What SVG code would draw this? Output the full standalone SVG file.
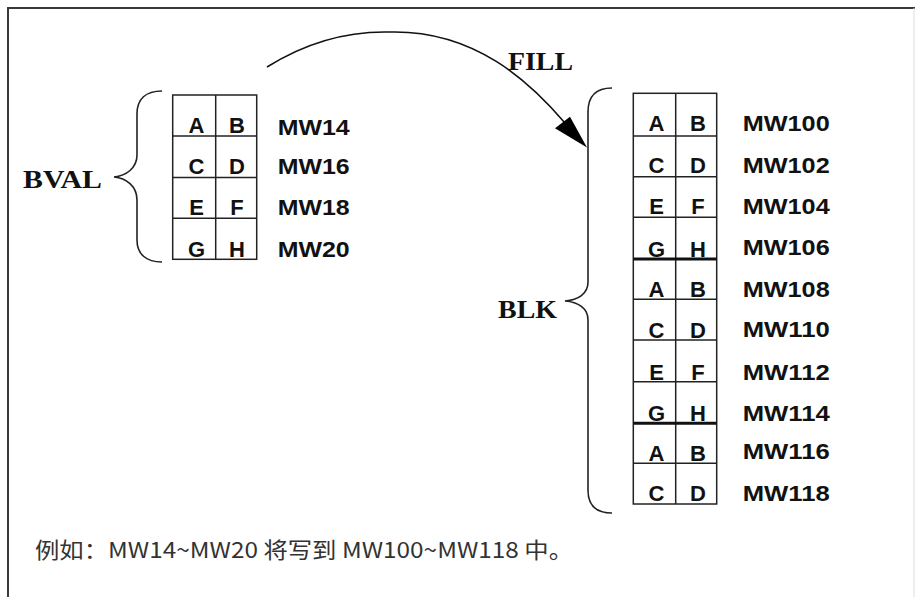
<svg xmlns="http://www.w3.org/2000/svg" width="915" height="597" viewBox="0 0 915 597">
<defs>
<style>
.frame{stroke:#3a3a3a;stroke-width:2;fill:none}
.grid{stroke:#222;stroke-width:1.5;fill:none}
.thick{stroke:#111;stroke-width:3}
.brace{stroke:#222;stroke-width:1.6;fill:none}
.cell{font-family:"Liberation Sans",Arial,sans-serif;font-weight:bold;font-size:22px;fill:#111;text-anchor:middle}
.mw{font-family:"Liberation Sans",Arial,sans-serif;font-weight:bold;font-size:22px;fill:#111}
.lbl{font-family:"Liberation Serif","Times New Roman",serif;font-weight:bold;font-size:26px;fill:#111}
.note{font-family:"Noto Sans CJK SC","Noto Sans",sans-serif;font-size:22px;fill:#333}
</style>
</defs>
<rect width="915" height="597" fill="#fff"/>
<g id="frame">
<line class="frame" x1="8" y1="8" x2="8" y2="597"/>
<line class="frame" x1="7" y1="8" x2="915" y2="8"/>
<line x1="914" y1="8" x2="914" y2="597" stroke="#ddd" stroke-width="1"/>
</g>
<g id="bval">
<path class="brace" d="M162,91 C146,91 137,99 137,114 L137,155 C137,168 126,176 114,177 C126,178 137,186 137,200 L137,240 C137,254 146,262 162,262"/>
<text class="lbl" x="23" y="188" textLength="79" lengthAdjust="spacingAndGlyphs">BVAL</text>
<rect class="grid" x="172.7" y="95" width="84" height="164.3"/>
<line class="grid" x1="215.7" y1="95" x2="215.7" y2="259.3"/>
<line class="grid" x1="172.7" y1="136" x2="256.7" y2="136"/>
<line class="grid" x1="172.7" y1="177.5" x2="256.7" y2="177.5"/>
<line class="grid" x1="172.7" y1="218.3" x2="256.7" y2="218.3"/>
<text class="cell" x="196.5" y="133">A</text><text class="cell" x="237" y="133">B</text>
<text class="cell" x="196.5" y="173.5">C</text><text class="cell" x="237" y="173.5">D</text>
<text class="cell" x="196.5" y="215">E</text><text class="cell" x="237" y="215">F</text>
<text class="cell" x="196.5" y="256.7">G</text><text class="cell" x="237" y="256.7">H</text>
<text class="mw" x="277.7" y="135" textLength="72" lengthAdjust="spacingAndGlyphs">MW14</text>
<text class="mw" x="277.7" y="173.5" textLength="72" lengthAdjust="spacingAndGlyphs">MW16</text>
<text class="mw" x="277.7" y="215" textLength="72" lengthAdjust="spacingAndGlyphs">MW18</text>
<text class="mw" x="277.7" y="257" textLength="72" lengthAdjust="spacingAndGlyphs">MW20</text>
</g>
<g id="blk">
<path class="brace" d="M612,88 C596,88 588,96 588,112 L588,282 C588,294 578,300 565,301 C578,302 588,308 588,320 L588,490 C588,506 596,513 612,513"/>
<text class="lbl" x="498" y="317.7" textLength="59" lengthAdjust="spacingAndGlyphs">BLK</text>
<rect class="grid" x="633.3" y="93.3" width="83.4" height="410.7"/>
<line class="grid" x1="675.7" y1="93.3" x2="675.7" y2="504"/>
<line class="grid" x1="633.3" y1="136" x2="716.7" y2="136"/>
<line class="grid" x1="633.3" y1="176.7" x2="716.7" y2="176.7"/>
<line class="grid" x1="633.3" y1="217.3" x2="716.7" y2="217.3"/>
<line class="thick" x1="633.3" y1="259" x2="716.7" y2="259"/>
<line class="grid" x1="633.3" y1="299.3" x2="716.7" y2="299.3"/>
<line class="grid" x1="633.3" y1="340" x2="716.7" y2="340"/>
<line class="grid" x1="633.3" y1="381.7" x2="716.7" y2="381.7"/>
<line class="thick" x1="633.3" y1="423.3" x2="716.7" y2="423.3"/>
<line class="grid" x1="633.3" y1="463.3" x2="716.7" y2="463.3"/>
<text class="cell" x="656.5" y="131">A</text><text class="cell" x="698" y="131">B</text>
<text class="cell" x="656.5" y="172.7">C</text><text class="cell" x="698" y="172.7">D</text>
<text class="cell" x="656.5" y="214">E</text><text class="cell" x="698" y="214">F</text>
<text class="cell" x="656.5" y="256.5">G</text><text class="cell" x="698" y="256.5">H</text>
<text class="cell" x="656.5" y="297.3">A</text><text class="cell" x="698" y="297.3">B</text>
<text class="cell" x="656.5" y="337.5">C</text><text class="cell" x="698" y="337.5">D</text>
<text class="cell" x="656.5" y="380">E</text><text class="cell" x="698" y="380">F</text>
<text class="cell" x="656.5" y="421">G</text><text class="cell" x="698" y="421">H</text>
<text class="cell" x="656.5" y="460.5">A</text><text class="cell" x="698" y="460.5">B</text>
<text class="cell" x="656.5" y="501">C</text><text class="cell" x="698" y="501">D</text>
<text class="mw" x="742.7" y="131" textLength="87" lengthAdjust="spacingAndGlyphs">MW100</text>
<text class="mw" x="742.7" y="172.7" textLength="87" lengthAdjust="spacingAndGlyphs">MW102</text>
<text class="mw" x="742.7" y="214" textLength="87" lengthAdjust="spacingAndGlyphs">MW104</text>
<text class="mw" x="742.7" y="255" textLength="87" lengthAdjust="spacingAndGlyphs">MW106</text>
<text class="mw" x="742.7" y="296.7" textLength="87" lengthAdjust="spacingAndGlyphs">MW108</text>
<text class="mw" x="742.7" y="337.3" textLength="87" lengthAdjust="spacingAndGlyphs">MW110</text>
<text class="mw" x="742.7" y="380" textLength="87" lengthAdjust="spacingAndGlyphs">MW112</text>
<text class="mw" x="742.7" y="420.7" textLength="87" lengthAdjust="spacingAndGlyphs">MW114</text>
<text class="mw" x="742.7" y="459" textLength="87" lengthAdjust="spacingAndGlyphs">MW116</text>
<text class="mw" x="742.7" y="500.7" textLength="87" lengthAdjust="spacingAndGlyphs">MW118</text>
</g>
<g id="connectors">
<path d="M267,67 C310,40 350,31 390,32 C475,30 530,82 565,123" fill="none" stroke="#111" stroke-width="1.6"/>
<polygon points="587,147.5 555,128.3 570,116.7" fill="#000"/>
<text class="lbl" x="508" y="70" font-size="25" textLength="65" lengthAdjust="spacingAndGlyphs">FILL</text>
</g>
<text class="note" x="35" y="558" textLength="538" lengthAdjust="spacingAndGlyphs">例如：MW14~MW20 将写到 MW100~MW118 中。</text>
</svg>
